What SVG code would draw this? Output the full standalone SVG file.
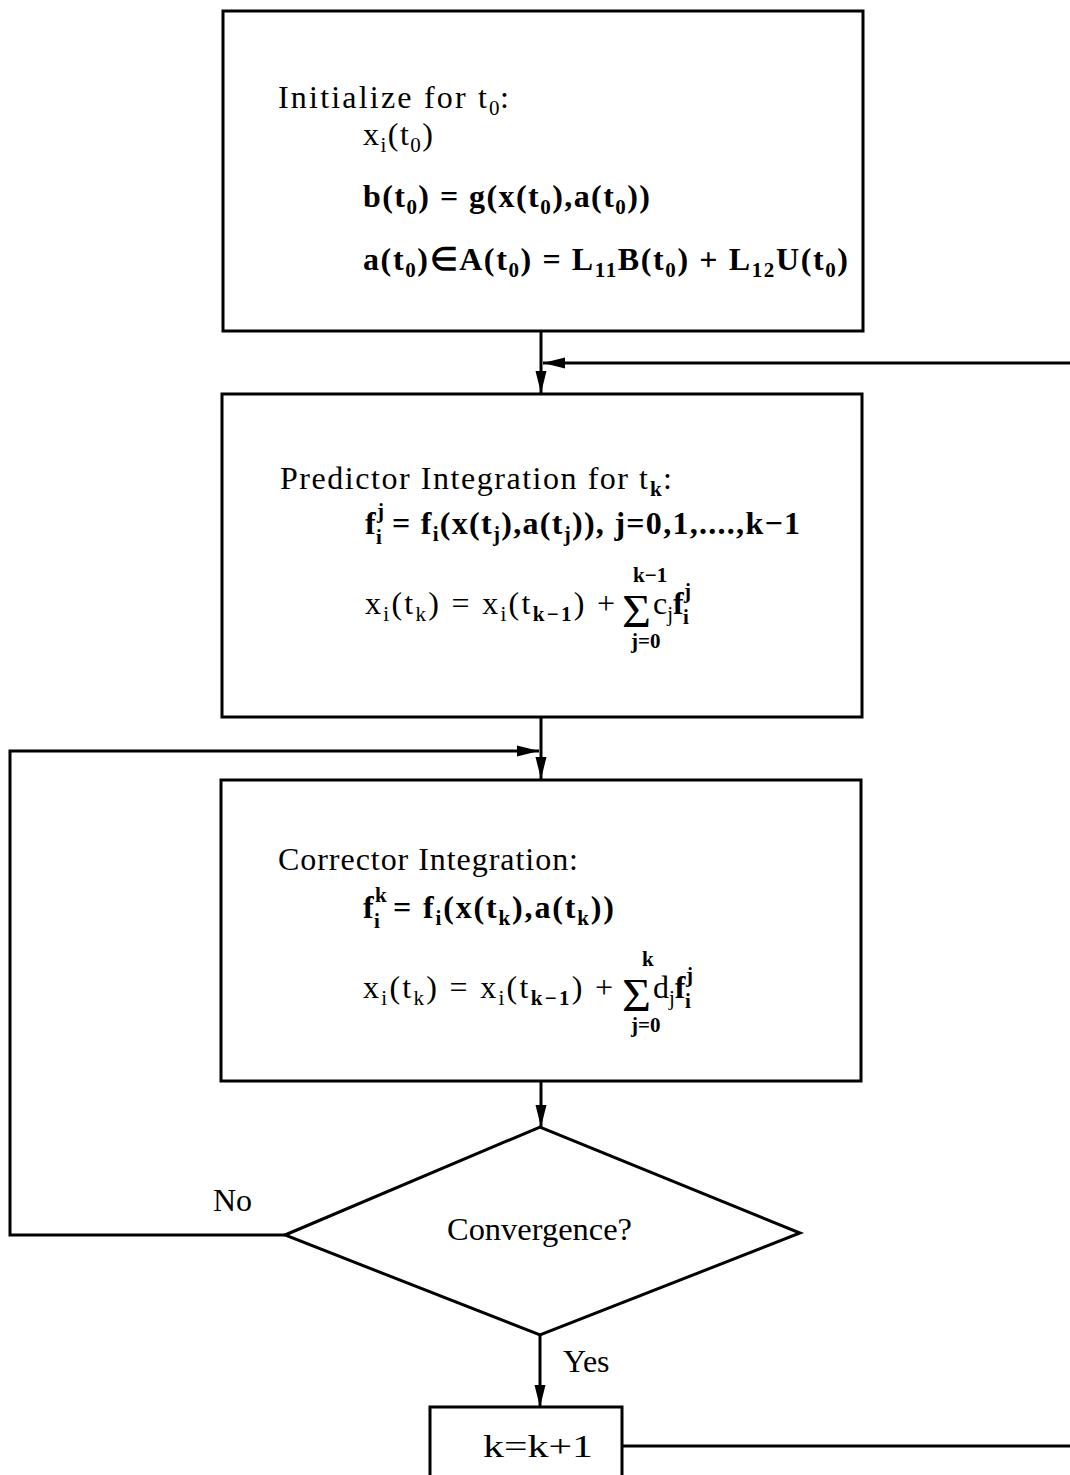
<svg xmlns="http://www.w3.org/2000/svg" width="1070" height="1475" viewBox="0 0 1070 1475">
<style>
.box{fill:none;stroke:#000;stroke-width:3}
.ln{fill:none;stroke:#000;stroke-width:3}
.t{font-family:"Liberation Serif","Times New Roman",serif;font-size:32px;fill:#000}
.b{font-weight:bold}
.s{font-size:21px}
.sg{font-size:46px}
.lab{font-family:"Liberation Serif","Times New Roman",serif;font-size:32px;fill:#000}
</style>
<defs>
<marker id="ah" markerUnits="userSpaceOnUse" markerWidth="24" markerHeight="12" refX="22" refY="6" orient="auto">
<path d="M0,0.5 L22,6 L0,11.5 z" fill="#000"/>
</marker>
</defs>
<rect width="1070" height="1475" fill="#fff"/>

<g id="connectors">
<path class="ln" d="M541,331 V393" marker-end="url(#ah)"/>
<path class="ln" d="M622,1446 H1076 V363 H543" marker-end="url(#ah)"/>
<path class="ln" d="M541,717 V779" marker-end="url(#ah)"/>
<path class="ln" d="M285,1235 H10 V751 H539" marker-end="url(#ah)"/>
<path class="ln" d="M541,1081 V1127" marker-end="url(#ah)"/>
<path class="ln" d="M540,1335 V1407" marker-end="url(#ah)"/>
<text class="lab" x="213" y="1211">No</text>
<text class="lab" x="563" y="1372">Yes</text>
</g>

<g id="init">
<rect class="box" x="223" y="11" width="640" height="320"/>
<text class="t" x="278" y="108" textLength="209" lengthAdjust="spacing">Initialize for t</text>
<text class="t s" x="489" y="115">0</text>
<text class="t" x="500" y="108">:</text>
<text class="t" x="363" y="145" textLength="70" lengthAdjust="spacing">x<tspan class="s" dy="7">i</tspan><tspan dy="-7">(t</tspan><tspan class="s" dy="7">0</tspan><tspan dy="-7">)</tspan></text>
<text class="t b" x="363" y="207" textLength="287" lengthAdjust="spacing">b(t<tspan class="s" dy="7">0</tspan><tspan dy="-7">) = g(x(t</tspan><tspan class="s" dy="7">0</tspan><tspan dy="-7">),a(t</tspan><tspan class="s" dy="7">0</tspan><tspan dy="-7">))</tspan></text>
<text class="t b" x="363" y="270" textLength="485" lengthAdjust="spacing">a(t<tspan class="s" dy="7">0</tspan><tspan dy="-7">)∈A(t</tspan><tspan class="s" dy="7">0</tspan><tspan dy="-7">) = L</tspan><tspan class="s" dy="7">11</tspan><tspan dy="-7">B(t</tspan><tspan class="s" dy="7">0</tspan><tspan dy="-7">) + L</tspan><tspan class="s" dy="7">12</tspan><tspan dy="-7">U(t</tspan><tspan class="s" dy="7">0</tspan><tspan dy="-7">)</tspan></text>
</g>

<g id="predictor">
<rect class="box" x="222" y="394" width="640" height="323"/>
<text class="t" x="280" y="489" textLength="368" lengthAdjust="spacing">Predictor Integration for t</text>
<text class="t s b" x="650" y="496">k</text>
<text class="t" x="663" y="489">:</text>
<text class="t b" x="365" y="534">f</text>
<text class="t s b" x="376" y="544">i</text>
<text class="t s b" x="377" y="518">j</text>
<text class="t b" x="392" y="534" textLength="408" lengthAdjust="spacing">= f<tspan class="s" dy="7">i</tspan><tspan dy="-7">(x(t</tspan><tspan class="s" dy="7">j</tspan><tspan dy="-7">),a(t</tspan><tspan class="s" dy="7">j</tspan><tspan dy="-7">)), j=0,1,....,k−1</tspan></text>
<text class="t" x="365" y="614" textLength="250" lengthAdjust="spacing">x<tspan class="s" dy="7">i</tspan><tspan dy="-7">(t</tspan><tspan class="s" dy="7">k</tspan><tspan dy="-7">) = x</tspan><tspan class="s" dy="7">i</tspan><tspan dy="-7">(t</tspan><tspan class="s b" dy="7">k−1</tspan><tspan dy="-7">) +</tspan></text>
<text class="t sg" x="622" y="627" textLength="29" lengthAdjust="spacingAndGlyphs">Σ</text>
<text class="t s b" x="633" y="582">k−1</text>
<text class="t s b" x="631" y="648">j=0</text>
<text class="t" x="653" y="614">c<tspan class="s" dy="7">j</tspan><tspan class="b" dy="-7">f</tspan></text>
<text class="t s b" x="683" y="624">i</text>
<text class="t s b" x="684" y="598">j</text>
</g>

<g id="corrector">
<rect class="box" x="221" y="780" width="640" height="301"/>
<text class="t" x="278" y="870" textLength="300" lengthAdjust="spacing">Corrector Integration:</text>
<text class="t b" x="363" y="918">f</text>
<text class="t s b" x="374" y="928">i</text>
<text class="t s b" x="375" y="902">k</text>
<text class="t b" x="393" y="918" textLength="221" lengthAdjust="spacing">= f<tspan class="s" dy="7">i</tspan><tspan dy="-7">(x(t</tspan><tspan class="s" dy="7">k</tspan><tspan dy="-7">),a(t</tspan><tspan class="s" dy="7">k</tspan><tspan dy="-7">))</tspan></text>
<text class="t" x="363" y="998" textLength="250" lengthAdjust="spacing">x<tspan class="s" dy="7">i</tspan><tspan dy="-7">(t</tspan><tspan class="s" dy="7">k</tspan><tspan dy="-7">) = x</tspan><tspan class="s" dy="7">i</tspan><tspan dy="-7">(t</tspan><tspan class="s b" dy="7">k−1</tspan><tspan dy="-7">) +</tspan></text>
<text class="t sg" x="622" y="1011" textLength="29" lengthAdjust="spacingAndGlyphs">Σ</text>
<text class="t s b" x="642" y="966">k</text>
<text class="t s b" x="631" y="1032">j=0</text>
<text class="t" x="653" y="998">d<tspan class="s" dy="7">j</tspan><tspan class="b" dy="-7">f</tspan></text>
<text class="t s b" x="685" y="1008">i</text>
<text class="t s b" x="686" y="982">j</text>
</g>

<g id="convergence">
<polygon class="box" points="285,1235 540,1127 800,1233 540,1335"/>
<text class="lab" x="447" y="1240" font-size="34" textLength="185" lengthAdjust="spacingAndGlyphs">Convergence?</text>
</g>

<g id="increment">
<rect class="box" x="430" y="1407" width="192" height="90"/>
<text class="lab" x="483" y="1457" font-size="36" textLength="110" lengthAdjust="spacingAndGlyphs">k=k+1</text>
</g>
</svg>
